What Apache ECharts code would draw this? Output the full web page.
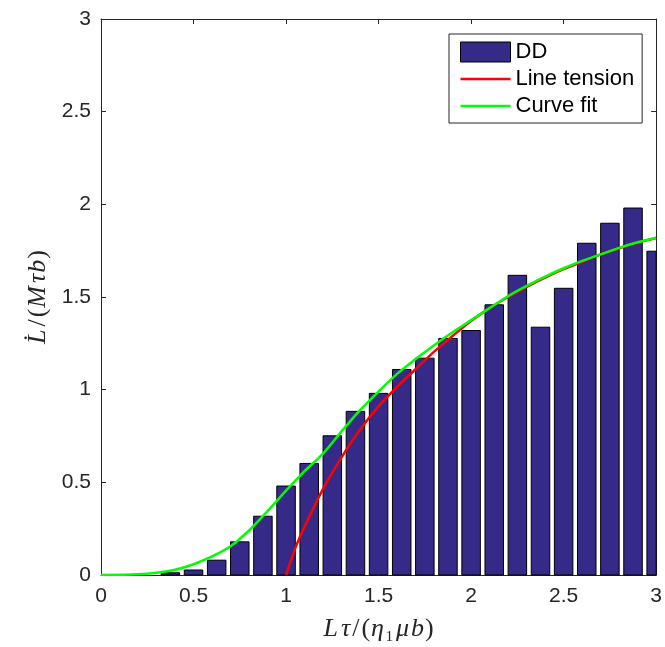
<!DOCTYPE html>
<html>
<head>
<meta charset="utf-8">
<script src="https://cdn.jsdelivr.net/npm/echarts@6/dist/echarts.min.js"></script>
<style>
  html, body { margin: 0; padding: 0; background: #fff; }
  #chart { width: 665px; height: 647px; }
</style>
</head>
<body>
<div id="chart"></div>
<script>
// Histogram bin centres (Lτ/(η1 μ b)) and the DD growth rates in each bin
const binCenters = [0.375, 0.5, 0.625, 0.75, 0.875, 1.0, 1.125, 1.25, 1.375, 1.5,
  1.625, 1.75, 1.875, 2.0, 2.125, 2.25, 2.375, 2.5, 2.625, 2.75, 2.875, 3.0];
const ddValues = [0.012, 0.027, 0.080, 0.179, 0.317, 0.48, 0.602, 0.751, 0.883, 0.980,
  1.109, 1.170, 1.276, 1.319, 1.458, 1.617, 1.337, 1.547, 1.790, 1.898, 1.980, 1.747];

// Line tension model, sampled
const tensionX = [1.0, 1.05, 1.1, 1.2, 1.3, 1.4, 1.5, 1.6, 1.7, 1.8, 1.9, 2.0,
  2.1, 2.2, 2.3, 2.4, 2.5, 2.6, 2.7, 2.8, 2.9, 3.0];
const tensionY = [0.0, 0.145, 0.26, 0.465, 0.635, 0.785, 0.91, 1.015, 1.11, 1.205, 1.29, 1.37,
  1.44, 1.50, 1.555, 1.605, 1.65, 1.69, 1.73, 1.763, 1.793, 1.818];

// Fitted curve, sampled
const fitX = [0.0, 0.2, 0.3, 0.4, 0.5, 0.6, 0.7, 0.8, 0.9, 1.0, 1.1, 1.2, 1.3, 1.4, 1.5,
  1.6, 1.7, 1.8, 1.9, 2.0, 2.1, 2.2, 2.3, 2.4, 2.5, 2.6, 2.7, 2.8, 2.9, 3.0];
const fitY = [0.0, 0.004, 0.012, 0.028, 0.058, 0.10, 0.155, 0.24, 0.345, 0.455, 0.56, 0.655,
  0.775, 0.89, 0.99, 1.085, 1.165, 1.24, 1.31, 1.375, 1.44, 1.505, 1.56, 1.61, 1.655,
  1.695, 1.73, 1.765, 1.795, 1.82];

const axisMin = 0, axisMax = 3, tickStep = 0.5;

const zip = (xs, ys) => xs.map((x, i) => [x, ys[i]]);

const axisColor = '#262626';
const barColor = '#352a87';
const sans = 'Liberation Sans';
const serif = 'Liberation Serif';
const barHalfWidth = 9.25;   // px

function frameAxis(extra) {
  return Object.assign({
    type: 'value', min: axisMin, max: axisMax, interval: tickStep,
    axisLine: { show: true, onZero: false, lineStyle: { color: axisColor, width: 1 } },
    axisTick: { show: true, inside: true, length: 5, lineStyle: { color: axisColor } },
    splitLine: { show: false },
    axisLabel: { show: false }
  }, extra);
}

const labelStyle = { show: true, color: '#262626', fontFamily: sans, fontSize: 21 };

// math-style axis titles: italic symbols, upright punctuation, light per-glyph spacing
function mathRich(size) {
  const it = (r) => ({ fontFamily: serif, fontStyle: 'italic', fontSize: size, color: '#262626', padding: [0, r, 0, 0] });
  const up = (r) => ({ fontFamily: serif, fontSize: size, color: '#262626', padding: [0, r, 0, 0] });
  return {
    L: it(3), t: it(2), sl: up(2), op: up(1), eta: it(1), sub: up(2),
    mu: it(2), b: it(1), cp: up(0), M: it(3), tau: it(1)
  };
}

// bars drawn as rectangles through the axis scales, clipped to the plot frame
function renderBin(params, api) {
  const c = api.coord([api.value(0), api.value(1)]);
  const base = api.coord([api.value(0), 0]);
  const cs = params.coordSys;
  const shape = echarts.graphic.clipRectByRect(
    { x: c[0] - barHalfWidth, y: c[1], width: barHalfWidth * 2, height: base[1] - c[1] },
    { x: cs.x, y: cs.y, width: cs.width, height: cs.height }
  );
  return shape && {
    type: 'rect',
    shape: shape,
    style: { fill: barColor, stroke: '#000', lineWidth: 1 }
  };
}

const lineIcon = 'path://M0,0H50V2.6H0Z';

const chart = echarts.init(document.getElementById('chart'), null, { renderer: 'canvas' });
chart.setOption({
  animation: false,
  backgroundColor: '#fff',
  grid: { left: 101, right: 8, top: 19, bottom: 70, containLabel: false },
  xAxis: [
    frameAxis({
      position: 'bottom',
      axisLabel: Object.assign({ margin: 11 }, labelStyle),
      name: '{L|L}{t|τ}{sl|/}{op|(}{eta|η}{sub|₁}{mu|μ}{b|b}{cp|)}',
      nameLocation: 'middle',
      nameGap: 41,
      nameTextStyle: { rich: mathRich(26) }
    }),
    frameAxis({ position: 'top' })
  ],
  yAxis: [
    frameAxis({
      position: 'left',
      axisLabel: Object.assign({ margin: 10 }, labelStyle),
      name: '{L|L̇}{sl|/}{op|(}{M|M}{tau|τ}{b|b}{cp|)}',
      nameLocation: 'middle',
      nameGap: 49,
      nameRotate: 90,
      nameTextStyle: { rich: mathRich(26) }
    }),
    frameAxis({ position: 'right' })
  ],
  legend: {
    orient: 'vertical',
    left: 449,
    top: 34,
    padding: [7, 8, 6, 11],
    itemWidth: 50,
    itemHeight: 20,
    itemGap: 5,
    backgroundColor: '#fff',
    borderColor: '#262626',
    borderWidth: 1,
    borderRadius: 0,
    textStyle: { fontFamily: sans, fontSize: 22, color: '#000' },
    data: [
      { name: 'DD', icon: 'rect', itemStyle: { color: barColor, borderColor: '#000', borderWidth: 1 } },
      { name: 'Line tension', icon: lineIcon, itemStyle: { color: '#ff0000', borderWidth: 0 } },
      { name: 'Curve fit', icon: lineIcon, itemStyle: { color: '#00ff00', borderWidth: 0 } }
    ]
  },
  series: [
    {
      name: 'DD',
      type: 'custom',
      xAxisIndex: 0, yAxisIndex: 0,
      renderItem: renderBin,
      encode: { x: 0, y: 1 },
      itemStyle: { color: barColor, borderColor: '#000', borderWidth: 1 },
      data: zip(binCenters, ddValues)
    },
    {
      name: 'Line tension',
      type: 'line',
      xAxisIndex: 0, yAxisIndex: 0,
      smooth: 0.3,
      symbol: 'none',
      showSymbol: false,
      lineStyle: { color: '#ff0000', width: 2.5 },
      itemStyle: { color: '#ff0000' },
      data: zip(tensionX, tensionY)
    },
    {
      name: 'Curve fit',
      type: 'line',
      xAxisIndex: 0, yAxisIndex: 0,
      smooth: 0.3,
      symbol: 'none',
      showSymbol: false,
      lineStyle: { color: '#00ff00', width: 2.5 },
      itemStyle: { color: '#00ff00' },
      data: zip(fitX, fitY)
    }
  ]
});
</script>
</body>
</html>
